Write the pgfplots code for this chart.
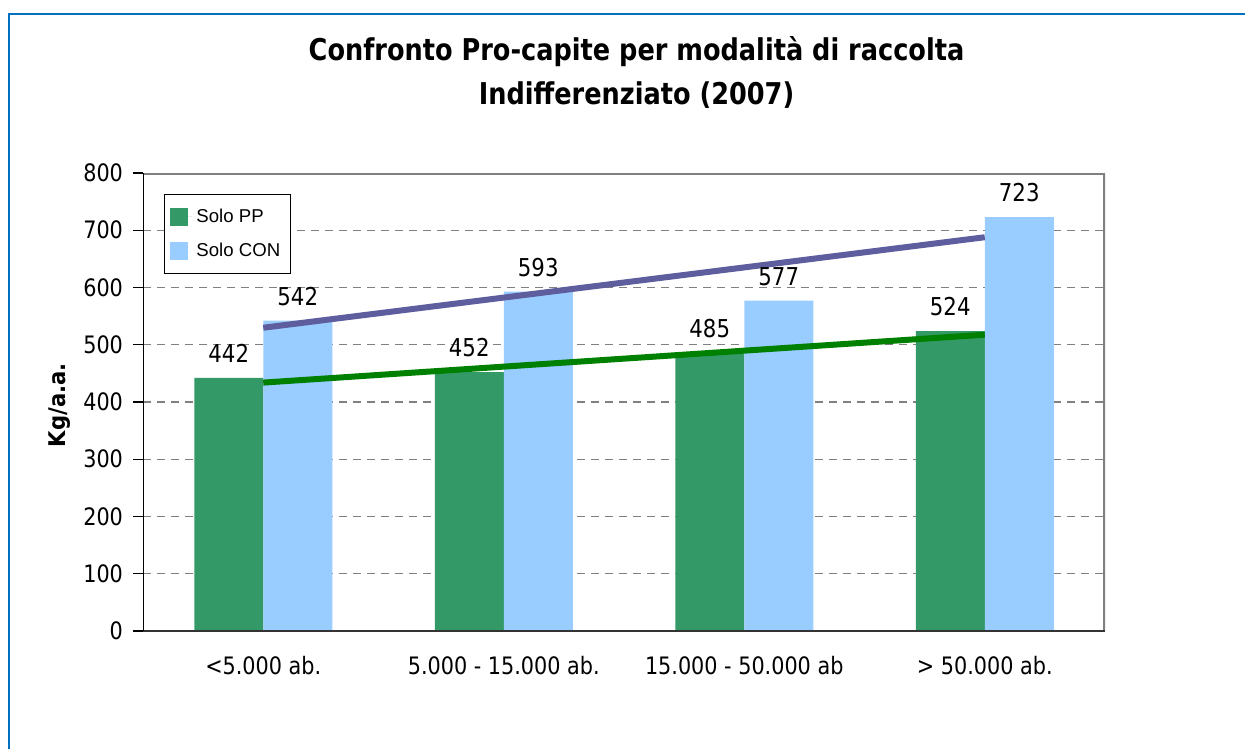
\documentclass[border=0pt]{standalone}
\usepackage{fontspec}
\setmainfont{DejaVu Sans}
\newfontfamily\legfont{Liberation Sans}
\usepackage{pgfplots}
\pgfplotsset{compat=1.18}

\definecolor{barPP}{HTML}{339966}
\definecolor{barCON}{HTML}{99CCFF}
\definecolor{trendCON}{HTML}{5E5E9E}
\definecolor{trendPP}{HTML}{008000}
\definecolor{frameblue}{HTML}{0070C0}
\definecolor{gridgray}{HTML}{808080}

% narrowed sans for axis texts
\newcommand{\nt}[1]{\scalebox{0.865}[1]{#1}}

\begin{document}
\begin{tikzpicture}[x=0.5pt,y=0.5pt]
\useasboundingbox (0,0) rectangle (1245,749);
\draw[frameblue, line width=1pt] (9,0) -- (9,735) -- (1245,735);

\node[font=\bfseries\fontsize{15}{17}\selectfont] at (636.5,697) {\scalebox{0.853}[1]{Confronto Pro-capite per modalità di raccolta}};
\node[font=\bfseries\fontsize{15}{17}\selectfont] at (636.5,654) {\scalebox{0.853}[1]{Indifferenziato (2007)}};

\begin{axis}[
  at={(71.5pt,59pt)}, anchor=south west,
  scale only axis, width=481pt, height=229pt,
  xmin=-0.5, xmax=3.5, ymin=0, ymax=800,
  /pgf/number format/assume math mode=true,
  axis line style={draw=none},
  ytick pos=left, xtick pos=bottom,
  tick align=outside,
  major tick length=5pt,
  tick style={black, line width=0.6pt},
  yticklabel={\nt{\pgfmathprintnumber{\tick}}},
  yticklabel style={font=\fontsize{12}{14}\selectfont, xshift=-1.5pt},
  xtick={0,1,2,3},
  xticklabels={{\nt{<5.000 ab.}},{\nt{5.000 - 15.000 ab.}},{\nt{15.000 - 50.000 ab}},{\nt{> 50.000 ab.}}},
  xticklabel style={font=\fontsize{12}{14}\selectfont, yshift=-4pt},
  major x tick style={draw=none},
  extra x ticks={-0.5,0.5,1.5,2.5,3.5},
  extra x tick labels={},
  extra x tick style={major x tick style={black, line width=0.6pt}, major tick length=4.5pt, grid=none},
  ytick={0,100,...,700},
  ymajorgrids,
  grid style={gridgray, line width=0.6pt, dash pattern=on 4pt off 3pt},
  extra y ticks={800},
  extra y tick style={grid=none},
  ylabel={\scalebox{0.92}[1]{Kg/a.a.}},
  ylabel style={at={(axis description cs:-0.0863,0.493)}, anchor=center, font=\bfseries\fontsize{11.5}{13}\selectfont},
  legend style={at={(axis description cs:0.0218,0.954)}, anchor=north west,
    draw=black, line width=0.5pt, fill=white,
    font=\legfont\fontsize{9.3}{11}\selectfont,
    inner xsep=3pt, inner ysep=5pt, row sep=5pt},
  legend cell align=left,
  legend image code/.code={\fill[#1] (0pt,-4.5pt) rectangle (9pt,4.5pt); \path (0pt,0pt) -- (11pt,0pt);},
  nodes near coords style={font=\fontsize{12.3}{14}\selectfont, anchor=south, yshift=4pt, text=black},
]
% grouped bars: Solo PP left, Solo CON right of each category
\addplot[fill=barPP, draw=none, ybar, bar width=34.5pt, bar shift=-17.25pt,
  nodes near coords={\nt{\pgfmathprintnumber{\pgfplotspointmeta}}},
  every node near coord/.append style={xshift=-17.25pt}]
  coordinates {(0,442) (1,452) (2,485) (3,524)};
\addlegendentry{Solo PP}
\addplot[fill=barCON, draw=none, ybar, bar width=34.5pt, bar shift=17.25pt,
  nodes near coords={\nt{\pgfmathprintnumber{\pgfplotspointmeta}}},
  every node near coord/.append style={xshift=17.25pt}]
  coordinates {(0,542) (1,593) (2,577) (3,723)};
\addlegendentry{Solo CON}

% linear trend lines of the two series
\addplot[trendCON, line width=3pt, forget plot] coordinates {(0,529.7) (3,687.8)};
\addplot[trendPP, line width=3pt, forget plot] coordinates {(0,433.9) (3,517.6)};

% plot-area frame
\draw[gridgray, line width=1.6pt] (rel axis cs:0,1) -- (rel axis cs:1,1) -- (rel axis cs:1,0);
\draw[black!80, line width=1.2pt] (rel axis cs:0,0) -- (rel axis cs:1,0);
\draw[black, line width=1.2pt] (rel axis cs:0,0) -- (rel axis cs:0,1);
\end{axis}
\end{tikzpicture}
\end{document}
